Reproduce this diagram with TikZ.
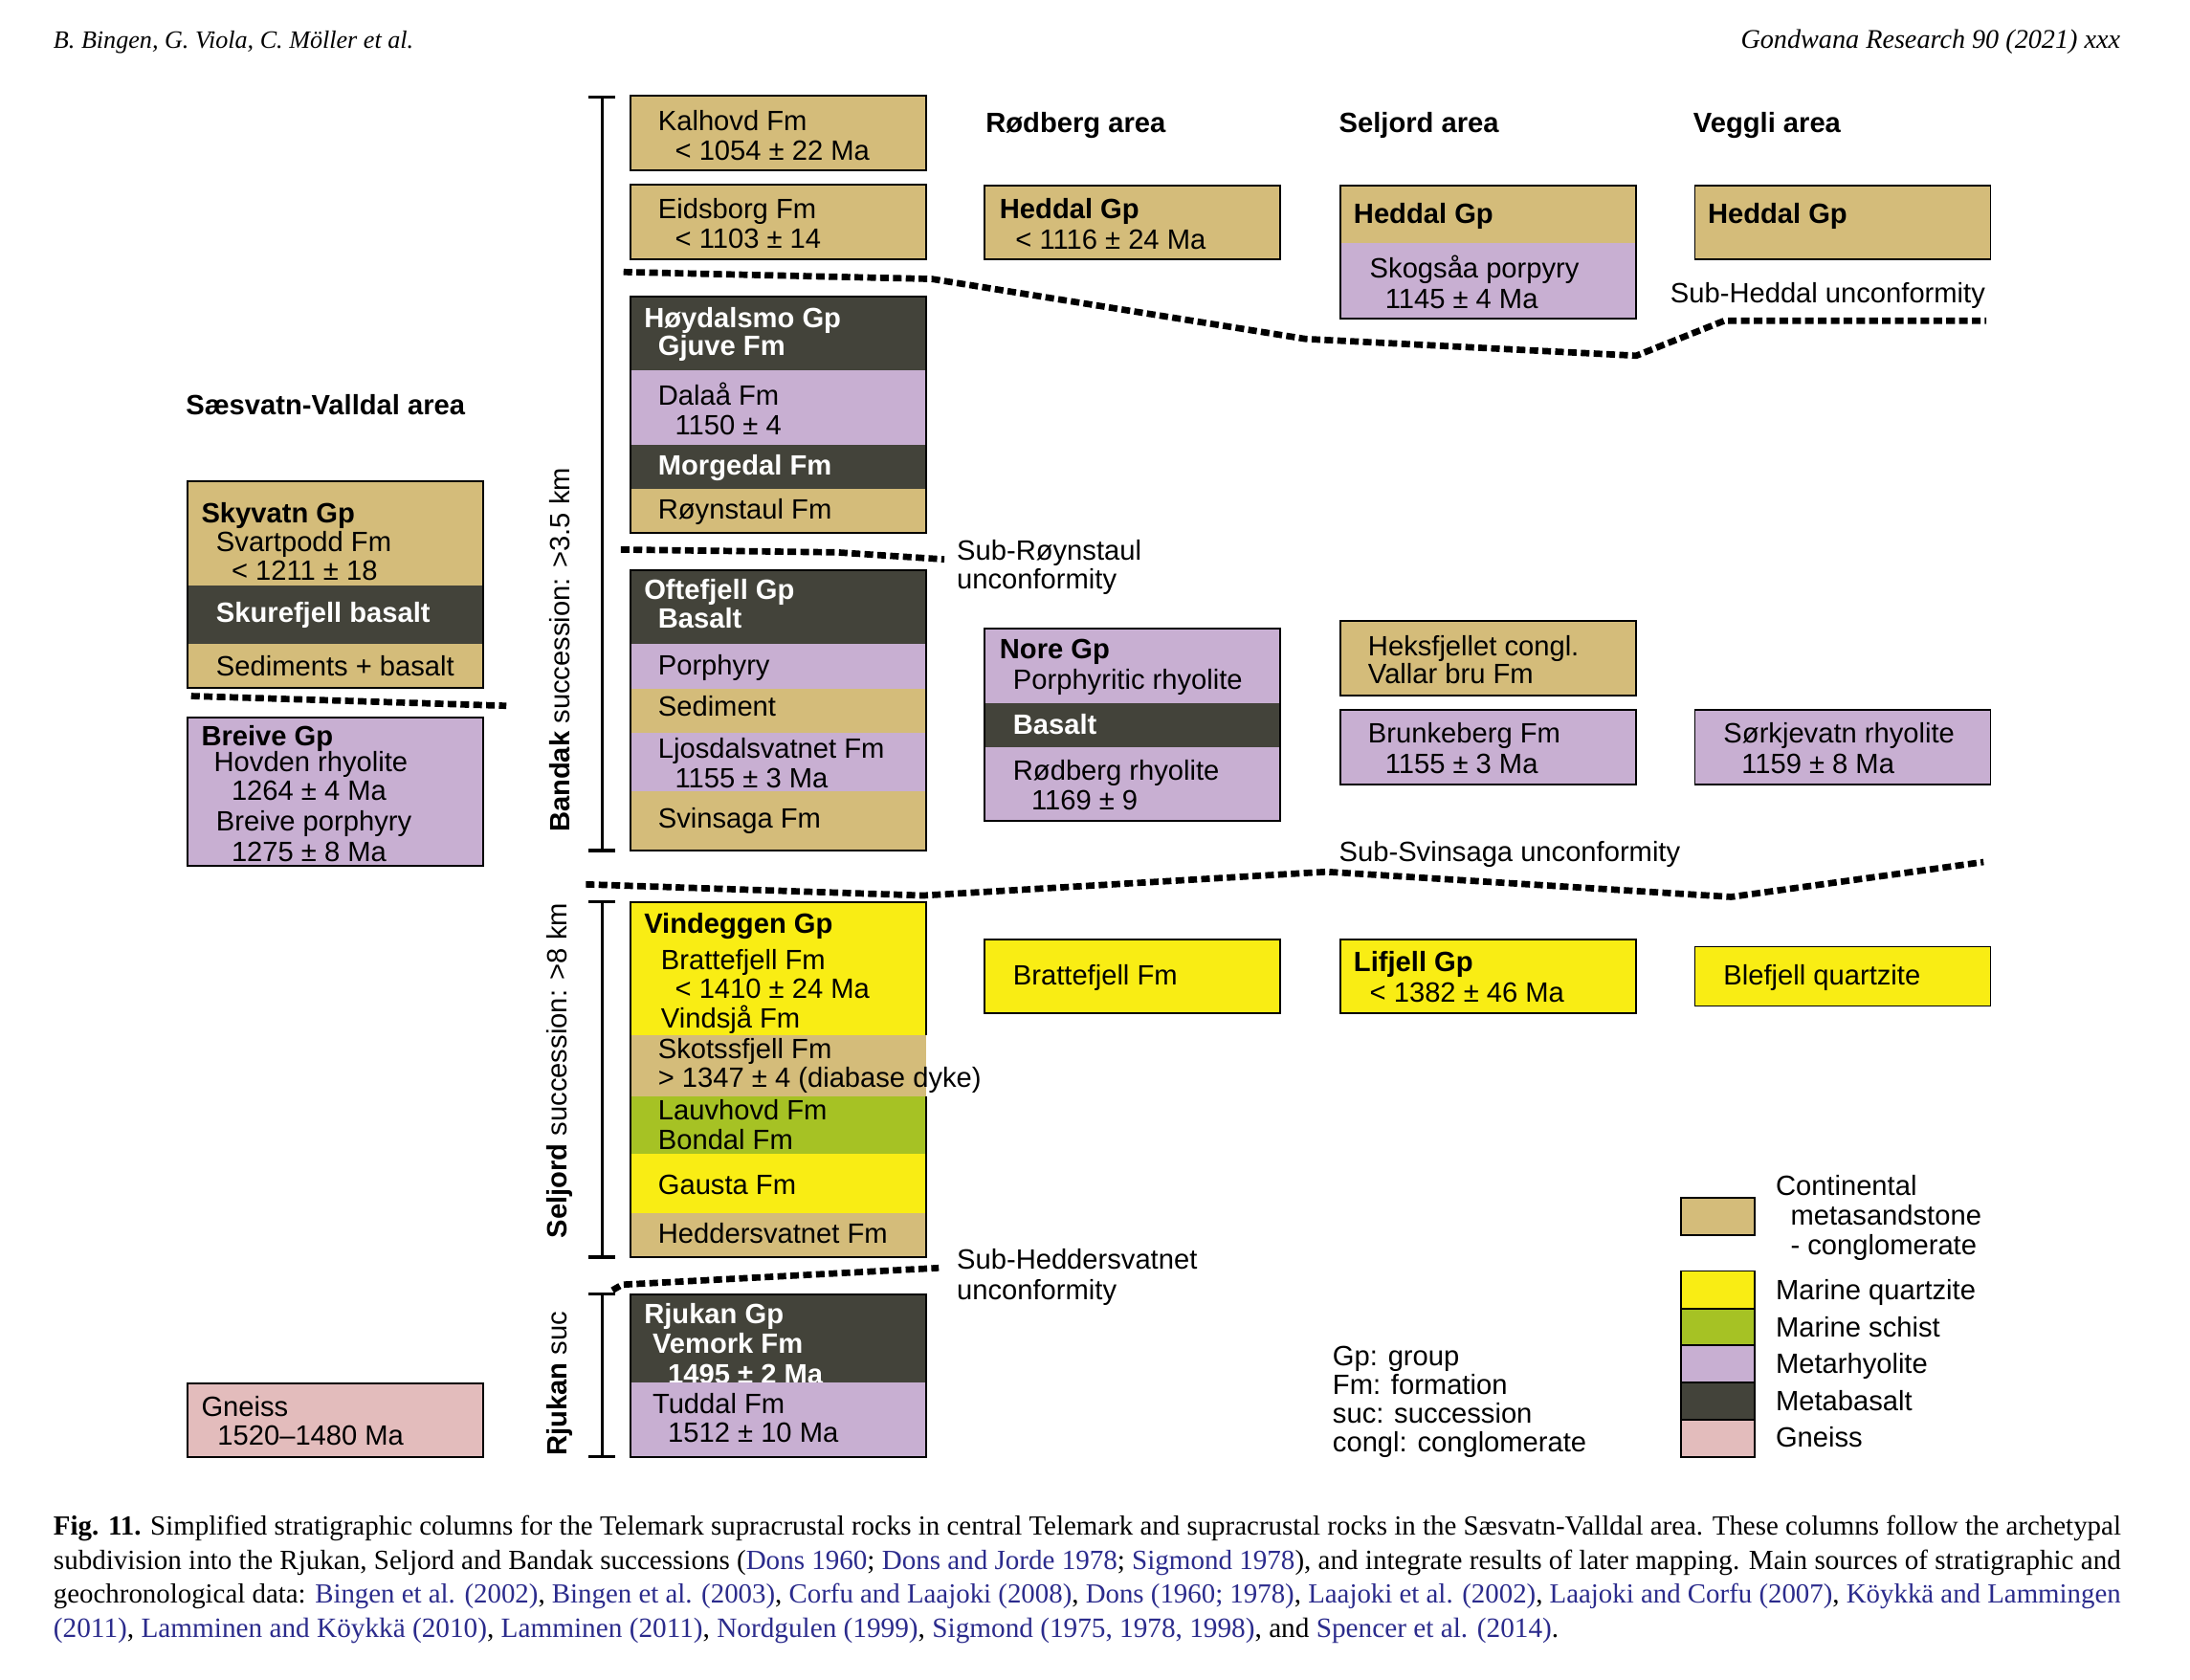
\documentclass[tikz,border=0pt]{standalone}
\usepackage{fontspec}
\setmainfont{Liberation Sans}
\newfontfamily\capfont{Liberation Serif}
\usepackage{graphicx}
\definecolor{ctan}{HTML}{D4BC7A}
\definecolor{clav}{HTML}{C8AFD2}
\definecolor{cdark}{HTML}{43433A}
\definecolor{cyel}{HTML}{F9ED14}
\definecolor{cgrn}{HTML}{A6C224}
\definecolor{cpink}{HTML}{E3BCBC}
\definecolor{cblue}{HTML}{2B2B8C}
\newcommand\T[4][]{\node[tx,#1] (#2) at (#3) {#4};}
\newcommand\cb[1]{\textcolor{cblue}{#1}}
\begin{document}
\begin{tikzpicture}[x=1pt,y=-1pt,
  tx/.style={anchor=base west,inner sep=0pt,outer sep=0pt,font=\fontsize{20}{22}\selectfont},
  wb/.style={text=white,font=\fontsize{20}{22}\selectfont\bfseries},
  bf/.style={font=\fontsize{20}{22}\selectfont\bfseries},
  bord/.style={draw=black,line width=1.3pt},
  unc/.style={line width=4.6pt,dash pattern=on 6.2pt off 3pt},
  bar/.style={line width=2.2pt},
  captxt/.style={anchor=base west,inner sep=0pt,outer sep=0pt}]
\useasboundingbox[fill=white] (0,0) rectangle (1570,1204);

% ---------- header ----------
\node[captxt] (hdl) at (38.4,34.3) {\resizebox{258pt}{!}{\capfont\itshape\fontsize{19}{20}\selectfont B. Bingen, G. Viola, C. M\"oller et al.}};
\node[captxt,anchor=base east] (hdr) at (1520,34.3) {\resizebox{272pt}{!}{\capfont\itshape\fontsize{19}{20}\selectfont Gondwana Research 90 (2021) xxx}};

% ---------- scale bars ----------
\draw[bar] (431.6,69.6) -- (431.6,609.7);
\draw[bar] (422,69.6) -- (441,69.6);
\draw[bar] (422,609.7) -- (441,609.7);
\draw[bar] (431.6,646.6) -- (431.6,901.2);
\draw[bar] (422,646.6) -- (441,646.6);
\draw[bar] (422,901.2) -- (441,901.2);
\draw[bar] (431.6,927.7) -- (431.6,1044.4);
\draw[bar] (422,927.7) -- (441,927.7);
\draw[bar] (422,1044.4) -- (441,1044.4);
\node[rotate=90,inner sep=0pt,font=\fontsize{20}{22}\selectfont] (lbandak) at (401,466) {\textbf{Bandak} succession: >3.5 km};
\node[rotate=90,inner sep=0pt,font=\fontsize{20}{22}\selectfont] (lseljord) at (401,767.5) {\textbf{Seljord} succession: >8 km};
\node[rotate=90,inner sep=0pt,font=\fontsize{20}{22}\selectfont] (lrjukan) at (401,992) {\textbf{Rjukan} suc};

% ---------- main column ----------
\fill[ctan] (452,68.8) rectangle (664,122); \draw[bord] (452,68.8) rectangle (664,122);
\T{kal1}{471.8,93.6}{Kalhovd Fm}
\T{kal2}{484,114.6}{< 1054 ± 22 Ma}
\fill[ctan] (452,132.6) rectangle (664,185.8); \draw[bord] (452,132.6) rectangle (664,185.8);
\T{eid1}{471.8,157}{Eidsborg Fm}
\T{eid2}{484,178}{< 1103 ± 14}

\fill[cdark] (452,212.6) rectangle (664,265.6);
\fill[clav] (452,265.6) rectangle (664,319);
\fill[cdark] (452,319) rectangle (664,350.4);
\fill[ctan] (452,350.4) rectangle (664,382);
\draw[bord] (452,212.6) rectangle (664,382);
\T[wb]{hoy1}{461.8,234.8}{Høydalsmo Gp}
\T[wb]{hoy2}{471.8,255}{Gjuve Fm}
\T{dal1}{471.8,290.5}{Dalaå Fm}
\T{dal2}{484,311.5}{1150 ± 4}
\T[wb]{mor}{471.8,340.4}{Morgedal Fm}
\T{roy}{471.8,371.9}{Røynstaul Fm}

\fill[cdark] (452,408.5) rectangle (664,461.4);
\fill[clav] (452,461.4) rectangle (664,493.8);
\fill[ctan] (452,493.8) rectangle (664,525.4);
\fill[clav] (452,525.4) rectangle (664,567.4);
\fill[ctan] (452,567.4) rectangle (664,609.7);
\draw[bord] (452,408.5) rectangle (664,609.7);
\T[wb]{oft1}{461.8,430}{Oftefjell Gp}
\T[wb]{oft2}{471.8,450.5}{Basalt}
\T{por}{471.8,483.7}{Porphyry}
\T{sed}{471.8,513.4}{Sediment}
\T{lj1}{471.8,543.6}{Ljosdalsvatnet Fm}
\T{lj2}{484,564.8}{1155 ± 3 Ma}
\T{svi}{471.8,593.4}{Svinsaga Fm}

\fill[cyel] (452,646.6) rectangle (664,741.9);
\fill[ctan] (452,741.9) rectangle (664,785.7);
\fill[cgrn] (452,785.7) rectangle (664,827);
\fill[cyel] (452,827) rectangle (664,869.7);
\fill[ctan] (452,869.7) rectangle (664,901.2);
\draw[bord] (664,741.9) -- (664,646.6) -- (452,646.6) -- (452,901.2) -- (664,901.2) -- (664,785.7);
\T[bf]{vin1}{461.8,668.9}{Vindeggen Gp}
\T{vin2}{473.9,694.9}{Brattefjell Fm}
\T{vin3}{484,715.9}{< 1410 ± 24 Ma}
\T{vin4}{473.9,736.7}{Vindsjå Fm}
\T{sko1}{471.8,758.6}{Skotssfjell Fm}
\T{sko2}{471.8,779.4}{> 1347 ± 4 (diabase dyke)}
\T{lau1}{471.8,803}{Lauvhovd Fm}
\T{lau2}{471.8,824.4}{Bondal Fm}
\T{gau}{471.8,856.3}{Gausta Fm}
\T{hed}{471.8,891}{Heddersvatnet Fm}

\fill[cdark] (452,927.7) rectangle (664,991);
\T[wb]{rj1}{461.8,948.7}{Rjukan Gp}
\T[wb]{rj2}{467.8,970}{Vemork Fm}
\T[wb]{rj3}{478.9,992.4}{1495 ± 2 Ma}
\fill[clav] (452,991) rectangle (664,1044.4);
\draw[bord] (452,927.7) rectangle (664,1044.4);
\T{tud1}{467.8,1013.6}{Tuddal Fm}
\T{tud2}{478.9,1034}{1512 ± 10 Ma}

% ---------- left column ----------
\T[bf]{tsv}{133.3,297}{Sæsvatn-Valldal area}
\fill[ctan] (134.3,345.2) rectangle (346.6,419.5);
\fill[cdark] (134.3,419.5) rectangle (346.6,461.4);
\fill[ctan] (134.3,461.4) rectangle (346.6,493.2);
\draw[bord] (134.3,345.2) rectangle (346.6,493.2);
\T[bf]{sky1}{144.4,374.5}{Skyvatn Gp}
\T{sky2}{155,395.5}{Svartpodd Fm}
\T{sky3}{166,416.2}{< 1211 ± 18}
\T[wb]{sku}{155,446}{Skurefjell basalt}
\T{sdb}{155,484.8}{Sediments + basalt}
\fill[clav] (134.3,514.4) rectangle (346.6,620.7); \draw[bord] (134.3,514.4) rectangle (346.6,620.7);
\T[bf]{bre1}{144.4,534.5}{Breive Gp}
\T{bre2}{153.4,553.4}{Hovden rhyolite}
\T{bre3}{166,574}{1264 ± 4 Ma}
\T{bre4}{155,595.7}{Breive porphyry}
\T{bre5}{166,617.4}{1275 ± 8 Ma}
\fill[cpink] (134.3,991.5) rectangle (346.6,1044.7); \draw[bord] (134.3,991.5) rectangle (346.6,1044.7);
\T{gn1}{144.4,1015.6}{Gneiss}
\T{gn2}{156,1036}{1520–1480 Ma}

% ---------- Rodberg ----------
\T[bf]{trb}{706.7,95}{Rødberg area}
\fill[ctan] (706,133) rectangle (918,185.8); \draw[bord] (706,133) rectangle (918,185.8);
\T[bf]{rh1}{716.7,156.6}{Heddal Gp}
\T{rh2}{728,179}{< 1116 ± 24 Ma}
\fill[clav] (706,450.4) rectangle (918,504);
\fill[cdark] (706,504) rectangle (918,535.4);
\fill[clav] (706,535.4) rectangle (918,588.7);
\draw[bord] (706,450.4) rectangle (918,588.7);
\T[bf]{no1}{716.7,472.2}{Nore Gp}
\T{no2}{726.3,494}{Porphyritic rhyolite}
\T[wb]{no3}{726.3,526.4}{Basalt}
\T{no4}{726.3,559}{Rødberg rhyolite}
\T{no5}{739.4,580.4}{1169 ± 9}
\fill[cyel] (706,673.3) rectangle (918,726.5); \draw[bord] (706,673.3) rectangle (918,726.5);
\T{rbf}{726.3,706}{Brattefjell Fm}

% ---------- Seljord ----------
\T[bf]{tsj}{960,95}{Seljord area}
\fill[ctan] (961,133) rectangle (1173,174.5);
\fill[clav] (961,174.5) rectangle (1173,228.3);
\draw[bord] (961,133) rectangle (1173,228.3);
\T[bf]{sh1}{970.5,160}{Heddal Gp}
\T{sk1}{982,199.4}{Skogsåa porpyry}
\T{sk2}{993,221}{1145 ± 4 Ma}
\fill[ctan] (961,445.4) rectangle (1173,498.8); \draw[bord] (961,445.4) rectangle (1173,498.8);
\T{hk1}{980.8,470}{Heksfjellet congl.}
\T{hk2}{980.8,490}{Vallar bru Fm}
\fill[clav] (961,508.7) rectangle (1173,562.4); \draw[bord] (961,508.7) rectangle (1173,562.4);
\T{bk1}{980.8,532.8}{Brunkeberg Fm}
\T{bk2}{993,554.5}{1155 ± 3 Ma}
\fill[cyel] (961,673.3) rectangle (1173,726.5); \draw[bord] (961,673.3) rectangle (1173,726.5);
\T[bf]{lf1}{970.5,696.8}{Lifjell Gp}
\T{lf2}{982,718.8}{< 1382 ± 46 Ma}

% ---------- Veggli ----------
\T[bf]{tvg}{1214,95}{Veggli area}
\fill[ctan] (1215,133) rectangle (1427,185.8); \draw[bord] (1215,133) rectangle (1427,185.8);
\T[bf]{vh}{1224.3,160}{Heddal Gp}
\fill[clav] (1215,508.7) rectangle (1427,562.4); \draw[bord] (1215,508.7) rectangle (1427,562.4);
\T{sr1}{1235.6,532.8}{Sørkjevatn rhyolite}
\T{sr2}{1248.5,554.5}{1159 ± 8 Ma}
\fill[cyel] (1215,678.7) rectangle (1427,721.2); \draw[bord] (1215,678.7) rectangle (1427,721.2);
\T{bq}{1235.6,706}{Blefjell quartzite}

% ---------- unconformities ----------
\draw[unc] (447,195) -- (668,200) -- (936,243) -- (1173,255) -- (1236,230) -- (1424,230);
\T{usubh}{1197.5,217}{Sub-Heddal unconformity}
\draw[unc] (445,394) -- (600,396) -- (677,401);
\T{usr1}{686,401.4}{Sub-Røynstaul}
\T{usr2}{686,422}{unconformity}
\draw[unc] (137,499) -- (363,506);
\draw[unc] (420,634) -- (662,642) -- (951,625) -- (1241,643) -- (1422,618);
\T{uss}{960,617.4}{Sub-Svinsaga unconformity}
\draw[unc] (439,925) -- (446,921) -- (673,909);
\T{ush1}{686,910}{Sub-Heddersvatnet}
\T{ush2}{686,931.6}{unconformity}

% ---------- abbreviations ----------
\T{ab1}{955.4,979}{Gp: group}
\T{ab2}{955.4,1000}{Fm: formation}
\T{ab3}{955.4,1020}{suc: succession}
\T{ab4}{955.4,1041}{congl: conglomerate}

% ---------- legend ----------
\fill[ctan] (1205,858.6) rectangle (1258,885.4); \draw[bord] (1205,858.6) rectangle (1258,885.4);
\fill[cyel] (1205,911.2) rectangle (1258,938);
\fill[cgrn] (1205,938) rectangle (1258,964.5);
\fill[clav] (1205,964.5) rectangle (1258,991.2);
\fill[cdark] (1205,991.2) rectangle (1258,1018);
\fill[cpink] (1205,1018) rectangle (1258,1044.5);
\draw[bord] (1205,911.2) rectangle (1258,1044.5);
\draw[bord] (1205,938) -- (1258,938);
\draw[bord] (1205,964.5) -- (1258,964.5);
\draw[bord] (1205,991.2) -- (1258,991.2);
\draw[bord] (1205,1018) -- (1258,1018);
\T{lg1}{1273,856.9}{Continental}
\T{lg2}{1283.7,878.5}{metasandstone}
\T{lg3}{1283.7,899.5}{- conglomerate}
\T{lg4}{1273,931.7}{Marine quartzite}
\T{lg5}{1273,958.2}{Marine schist}
\T{lg6}{1273,984.6}{Metarhyolite}
\T{lg7}{1273,1011}{Metabasalt}
\T{lg8}{1273,1037.3}{Gneiss}

% ---------- caption ----------
\node[captxt] (cap1) at (38.4,1100.3) {\resizebox{1482pt}{!}{\capfont\fontsize{18.4}{20}\selectfont \textbf{Fig. 11.} Simplified stratigraphic columns for the Telemark supracrustal rocks in central Telemark and supracrustal rocks in the Sæsvatn-Valldal area. These columns follow the archetypal}};
\node[captxt] (cap2) at (38.4,1125) {\resizebox{1482pt}{!}{\capfont\fontsize{18.4}{20}\selectfont subdivision into the Rjukan, Seljord and Bandak successions (\cb{Dons 1960}; \cb{Dons and Jorde 1978}; \cb{Sigmond 1978}), and integrate results of later mapping. Main sources of stratigraphic and}};
\node[captxt] (cap3) at (38.4,1149.5) {\resizebox{1482pt}{!}{\capfont\fontsize{18.4}{20}\selectfont geochronological data: \cb{Bingen et al. (2002)}, \cb{Bingen et al. (2003)}, \cb{Corfu and Laajoki (2008)}, \cb{Dons (1960; 1978)}, \cb{Laajoki et al. (2002)}, \cb{Laajoki and Corfu (2007)}, \cb{Köykkä and Lammingen}}};
\node[captxt] (cap4) at (38.4,1174) {\resizebox{1079pt}{!}{\capfont\fontsize{18.4}{20}\selectfont \cb{(2011)}, \cb{Lamminen and Köykkä (2010)}, \cb{Lamminen (2011)}, \cb{Nordgulen (1999)}, \cb{Sigmond (1975, 1978, 1998)}, and \cb{Spencer et al. (2014)}.}};
\end{tikzpicture}
\end{document}
